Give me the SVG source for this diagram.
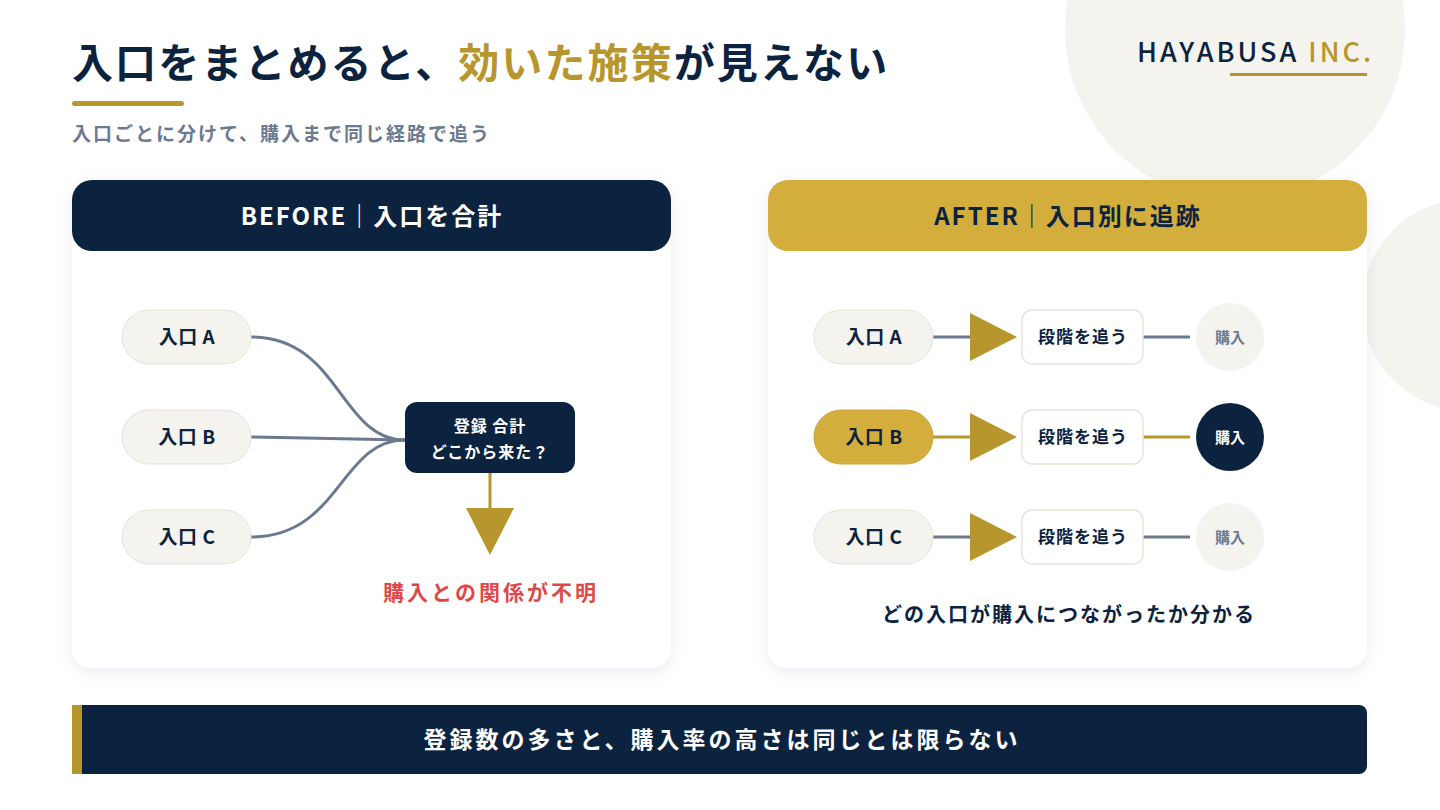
<svg xmlns="http://www.w3.org/2000/svg" width="1440" height="810" viewBox="0 0 1440 810">
<defs>
<style>
text{font-family:"Noto Sans CJK JP","Noto Sans",sans-serif;font-weight:700}
.pill{fill:#f4f3ee;stroke:#e6e3d8;stroke-width:1}
.pt{font-size:19px;fill:#0c2340;text-anchor:middle;letter-spacing:0.5px}
.ln{stroke:#6b7a90;stroke-width:3;fill:none}
.gl{stroke:#b8962e;stroke-width:3;fill:none}
.tri{fill:#b8962e}
.box{fill:#fff;stroke:#e8e5da;stroke-width:1.5}
</style>
<filter id="sh" x="-10%" y="-10%" width="120%" height="120%"><feDropShadow dx="0" dy="4" stdDeviation="8" flood-color="#0c2340" flood-opacity="0.08"/></filter>
</defs>
<rect width="1440" height="810" fill="#fff"/>
<circle cx="1235" cy="30" r="170" fill="#f4f3ee"/>
<circle cx="1468" cy="305" r="106" fill="#f4f3ee"/>
<text x="72" y="78" font-size="41" letter-spacing="2.1" fill="#0c2340">入口をまとめると、<tspan fill="#b8962e">効いた施策</tspan>が見えない</text>
<rect x="72" y="101" width="112" height="5" rx="2.5" fill="#b8962e"/>
<text x="72" y="141" font-size="19" letter-spacing="2" fill="#6b7a90">入口ごとに分けて、購入まで同じ経路で追う</text>
<text x="1374" y="62" font-size="27" fill="#0c2340" text-anchor="end" letter-spacing="3" style="font-weight:500">HAYABUSA <tspan fill="#b8962e">INC.</tspan></text>
<rect x="1230" y="73" width="137" height="3" fill="#b8962e"/>
<g id="before">
<rect x="72" y="180" width="599" height="488" rx="20" fill="#fff" filter="url(#sh)"/>
<rect x="72" y="180" width="599" height="71" rx="20" fill="#0c2340"/>
<text x="372" y="225" font-size="24" letter-spacing="2" fill="#fff" text-anchor="middle">BEFORE｜入口を合計</text>
</g>
<g id="after">
<rect x="768" y="180" width="599" height="488" rx="20" fill="#fff" filter="url(#sh)"/>
<rect x="768" y="180" width="599" height="71" rx="20" fill="#d4ae3c"/>
<text x="1068" y="225" font-size="24" letter-spacing="2" fill="#0c2340" text-anchor="middle">AFTER｜入口別に追跡</text>
</g>
<g id="connectors">
<path class="ln" d="M251 337C340 337 340 440 405 440"/>
<path class="ln" d="M251 437L405 440"/>
<path class="ln" d="M251 537C340 537 340 440 405 440"/>
<line class="gl" x1="490" y1="473" x2="490" y2="510"/>
<polygon class="tri" points="466,508 514,508 490,555"/>
<line class="ln" x1="933" y1="337" x2="970" y2="337"/>
<polygon class="tri" points="970,313 1017,337 970,361"/>
<line class="ln" x1="1143" y1="337" x2="1190" y2="337"/>
<line class="gl" x1="933" y1="437" x2="970" y2="437"/>
<polygon class="tri" points="970,413 1017,437 970,461"/>
<line class="gl" x1="1143" y1="437" x2="1190" y2="437"/>
<line class="ln" x1="933" y1="537" x2="970" y2="537"/>
<polygon class="tri" points="970,513 1017,537 970,561"/>
<line class="ln" x1="1143" y1="537" x2="1190" y2="537"/>
</g>
<g id="bA"><rect class="pill" x="122" y="310" width="129" height="54" rx="27"/><text class="pt" x="187" y="344">入口 A</text></g>
<g id="bB"><rect class="pill" x="122" y="410" width="129" height="54" rx="27"/><text class="pt" x="187" y="444">入口 B</text></g>
<g id="bC"><rect class="pill" x="122" y="510" width="129" height="54" rx="27"/><text class="pt" x="187" y="544">入口 C</text></g>
<g id="total"><rect x="405" y="402" width="170" height="71" rx="12" fill="#0c2340"/>
<text x="490" y="432" font-size="16" letter-spacing="1" fill="#fff" text-anchor="middle">登録 合計</text>
<text x="490" y="458" font-size="16" letter-spacing="1" fill="#fff" text-anchor="middle">どこから来た？</text></g>
<text x="491" y="600" font-size="21" letter-spacing="3" fill="#e04848" text-anchor="middle">購入との関係が不明</text>
<g id="aA"><rect class="pill" x="814" y="310" width="119" height="54" rx="27"/><text class="pt" x="874" y="344">入口 A</text></g>
<g id="aB"><rect x="814" y="410" width="119" height="54" rx="27" fill="#d4ae3c" stroke="#c9a436"/><text class="pt" x="874" y="444">入口 B</text></g>
<g id="aC"><rect class="pill" x="814" y="510" width="119" height="54" rx="27"/><text class="pt" x="874" y="544">入口 C</text></g>
<g id="sA"><rect class="box" x="1022" y="310" width="121" height="54" rx="10"/><text x="1083" y="343" font-size="17" letter-spacing="1" fill="#0c2340" text-anchor="middle">段階を追う</text></g>
<g id="sB"><rect class="box" x="1022" y="410" width="121" height="54" rx="10"/><text x="1083" y="443" font-size="17" letter-spacing="1" fill="#0c2340" text-anchor="middle">段階を追う</text></g>
<g id="sC"><rect class="box" x="1022" y="510" width="121" height="54" rx="10"/><text x="1083" y="543" font-size="17" letter-spacing="1" fill="#0c2340" text-anchor="middle">段階を追う</text></g>
<g id="pA"><circle cx="1230" cy="337" r="34" fill="#f4f3ee"/><text x="1230" y="343" font-size="15" fill="#6b7a90" text-anchor="middle">購入</text></g>
<g id="pB"><circle cx="1230" cy="437" r="34" fill="#0c2340"/><text x="1230" y="443" font-size="15" fill="#fff" text-anchor="middle">購入</text></g>
<g id="pC"><circle cx="1230" cy="537" r="34" fill="#f4f3ee"/><text x="1230" y="543" font-size="15" fill="#6b7a90" text-anchor="middle">購入</text></g>
<text x="1069" y="622" font-size="20" letter-spacing="2" fill="#0c2340" text-anchor="middle">どの入口が購入につながったか分かる</text>
<g id="footer">
<rect x="72" y="705" width="1295" height="69" rx="8" fill="#0c2340"/>
<rect x="72" y="705" width="10" height="69" fill="#b8962e"/>
<text x="722" y="748" font-size="23" letter-spacing="3" fill="#fff" text-anchor="middle">登録数の多さと、購入率の高さは同じとは限らない</text>
</g>
</svg>
